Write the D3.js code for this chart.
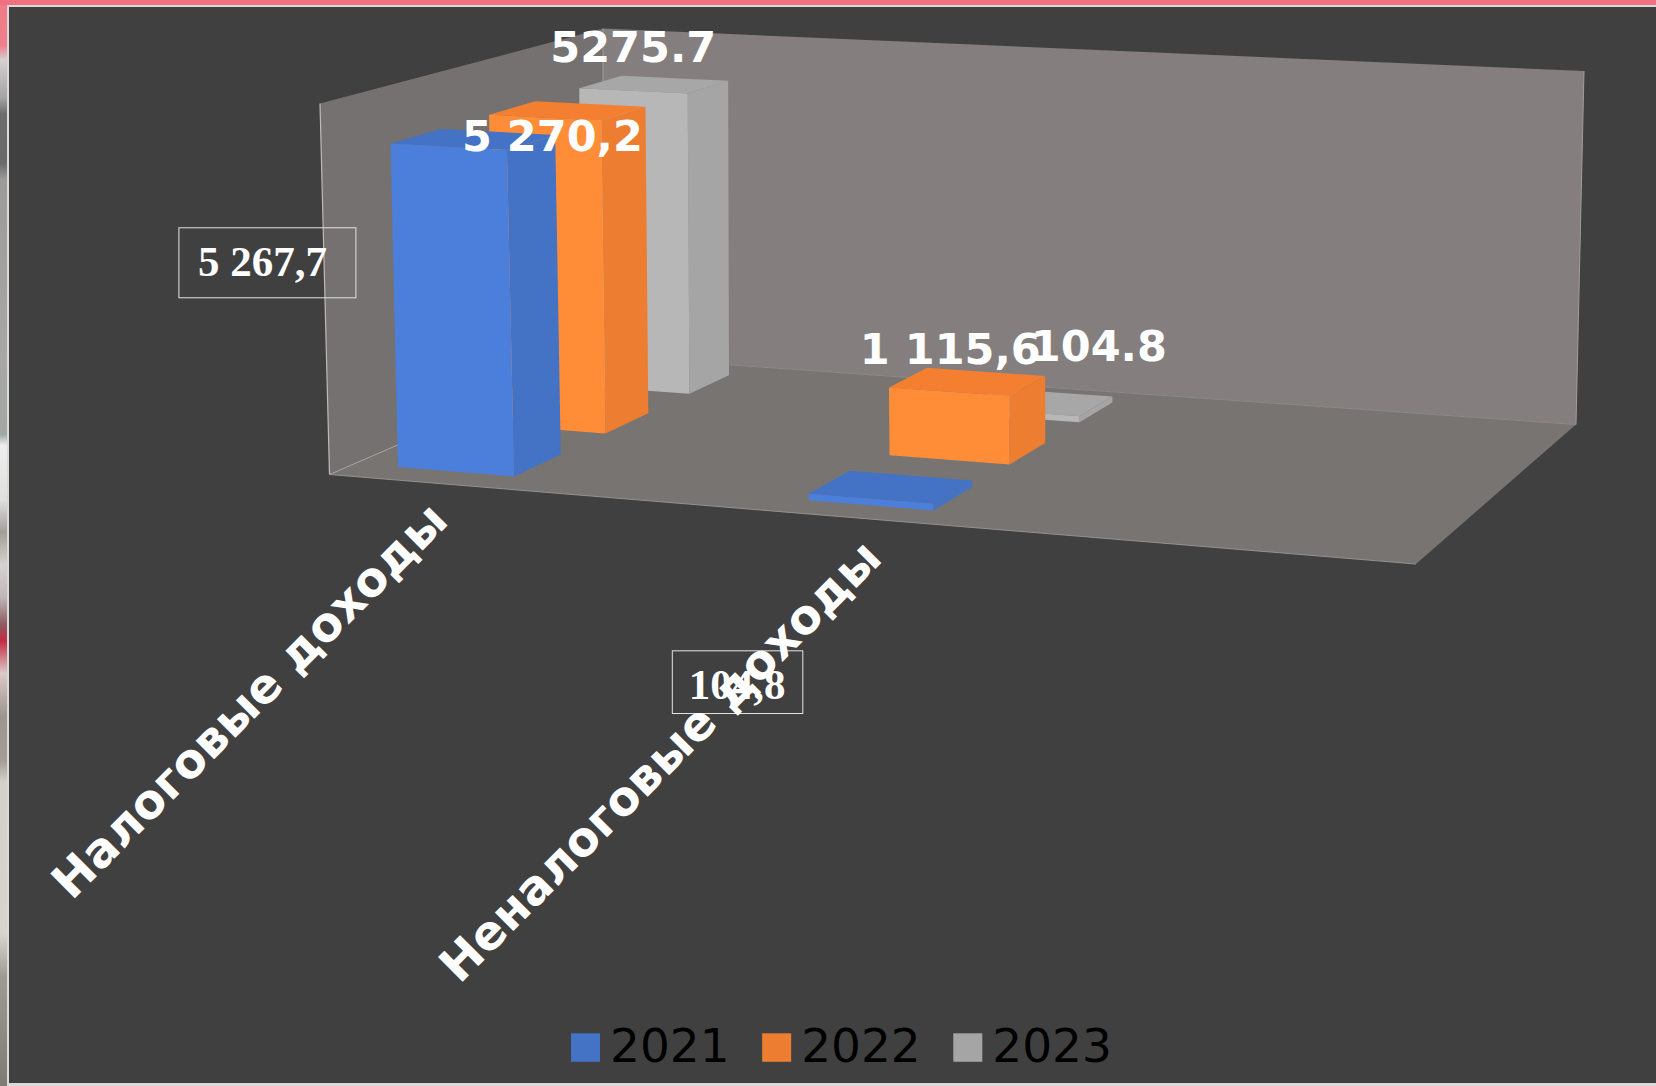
<!DOCTYPE html>
<html><head><meta charset="utf-8">
<style>html,body{margin:0;padding:0;background:#404040}svg{display:block}</style>
<script src="https://cdn.jsdelivr.net/npm/d3@7/dist/d3.min.js"></script>
</head><body><svg id="c" width="1656" height="1086"></svg>
<script>
// ---- data ----
const categories = ["Налоговые доходы", "", "Неналоговые доходы", "", ""];
const seriesNames = ["2021", "2022", "2023"];
const values2021 = [5267.7, null, 104.8, null, null];
const values2022 = [5270.2, null, 1115.6, null, null];
const values2023 = [5275.7, null, 104.8, null, null];
const labels2021 = ["5 267,7", "", "104,8", "", ""];
const labels2022 = ["5 270,2", "", "1 115,6", "", ""];
const labels2023 = ["5275.7", "", "104.8", "", ""];
const yTicksMax = 6000;

// ---- styling / layout ----
const W = 1656, H = 1086;
const faceColors = {
  "2021": {front:"#4C7FDB", side:"#4472C4", top:"#4472C4"},
  "2022": {front:"#FF8D38", side:"#ED7D31", top:"#F47F30"},
  "2023": {front:"#B7B7B7", side:"#A5A5A5", top:"#A7A7A7"}
};
const scene = {
  floor:[[329.5,474.5],[1416,564],[1576,424.5],[603,356]],
  ceil:[[320,103.5],[1422.6,161],[1584,71],[603,28.5]]
};
// unit square -> quad
function homography(q){
  const [[x0,y0],[x1,y1],[x2,y2],[x3,y3]] = q;
  const dx1=x1-x2, dx2=x3-x2, sx=x0-x1+x2-x3, dy1=y1-y2, dy2=y3-y2, sy=y0-y1+y2-y3;
  const den=dx1*dy2-dx2*dy1;
  const g=(sx*dy2-dx2*sy)/den, h=(dx1*sy-sx*dy1)/den;
  const a=x1-x0+g*x1, b=x3-x0+h*x3, d=y1-y0+g*y1, e=y3-y0+h*y3;
  return (u,v)=>{const w=g*u+h*v+1;return [(a*u+b*v+x0)/w,(d*u+e*v+y0)/w];};
}
const hFloor=homography(scene.floor), hCeil=homography(scene.ceil);
function project(u,t,v){
  const p=hFloor(u,v), q=hCeil(u,v);
  return [p[0]+(q[0]-p[0])*t, p[1]+(q[1]-p[1])*t];
}
// scales
const xBand=d3.scaleBand().domain(d3.range(categories.length)).range([0.0015,1.0015]).paddingInner(0.42).paddingOuter(0.21);
const zBand=d3.scaleBand().domain(seriesNames).range([0,1]).paddingInner(0.5).paddingOuter(0.25);
const yScale=d3.scaleLinear().domain([0,yTicksMax]).range([0,1]);
const legendX=d3.scalePoint().domain(seriesNames).range([571,953.3]);
const line=d3.line().curve(d3.curveLinearClosed);

const svg=d3.select("#c");
// outside the slide panel
const defs=svg.append("defs");
const grad=defs.append("linearGradient").attr("id","strip").attr("x1",0).attr("x2",0).attr("y1",0).attr("y2",1);
[[0,"#F07A88"],[0.042,"#EE7F8C"],[0.055,"#D5D0D2"],[0.09,"#A5A4A4"],[0.105,"#6C6C6C"],[0.15,"#6A6A6A"],[0.165,"#9C9B98"],[0.33,"#A9A7A2"],[0.4,"#A0A8A2"],[0.41,"#EDEDED"],[0.46,"#E0E0DE"],[0.49,"#A29F98"],[0.52,"#D5D2CE"],[0.55,"#C0B8B8"],[0.575,"#8E5A62"],[0.59,"#C42C42"],[0.62,"#DCC8C8"],[0.66,"#9B968E"],[0.7,"#A29E96"],[0.72,"#D3CFC9"],[0.86,"#D8D4CF"],[0.9,"#9E9A93"],[1,"#7E7B76"]]
 .forEach(s=>grad.append("stop").attr("offset",s[0]).attr("stop-color",s[1]));
svg.append("rect").attr("width",W).attr("height",H).attr("fill","#404040");
svg.append("rect").attr("width",7).attr("height",H).attr("fill","url(#strip)");
svg.append("rect").attr("width",W).attr("height",5).attr("fill","#F0707F");
svg.append("rect").attr("x",7).attr("y",5).attr("width",W-7).attr("height",2).attr("fill","#D9D9D9");
svg.append("rect").attr("x",7).attr("y",5).attr("width",2).attr("height",H-5).attr("fill","#D9D9D9");
svg.append("rect").attr("x",7).attr("y",1083).attr("width",W-7).attr("height",3).attr("fill","#D9D9D9");

// room
const room=svg.append("g");
const poly=(g,pts,fill)=>g.append("path").attr("d",line(pts)).attr("fill",fill);
poly(room,[project(0,0,1),project(1,0,1),project(1,1,1),project(0,1,1)],"#847E7E");
poly(room,[project(0,0,0),project(0,0,1),project(0,1,1),project(0,1,0)],"#747170");
poly(room,[project(0,0,0),project(1,0,0),project(1,0,1),project(0,0,1)],"#787472");
const edges=[[[0,0,0],[0,1,0],"#BDBBBA",1.2],[[0,0,0],[0,0,1],"#A9A6A5",1],[[0,0,1],[0,1,1],"#A09C9B",1],
  [[0,0,0],[1,0,0],"#949190",1],[[1,0,1],[1,1,1],"#A09D9C",1],[[0,0,1],[1,0,1],"#8E8A89",1]];
edges.forEach(e=>{const a=project(...e[0]),b=project(...e[1]);
  room.append("line").attr("x1",a[0]).attr("y1",a[1]).attr("x2",b[0]).attr("y2",b[1]).attr("stroke",e[2]).attr("stroke-width",e[3]);});

// bars: painter's order back to front
const seriesValues={"2021":values2021,"2022":values2022,"2023":values2023};
const bars=svg.append("g");
seriesNames.slice().reverse().forEach(s=>{
  const col=faceColors[s];
  seriesValues[s].forEach((val,i)=>{
    if(val==null) return;
    const u0=xBand(i),u1=u0+xBand.bandwidth(),v0=zBand(s),v1=v0+zBand.bandwidth(),t=yScale(val);
    const g=bars.append("g");
    poly(g,[project(u0,t,v0),project(u1,t,v0),project(u1,t,v1),project(u0,t,v1)],col.top);
    poly(g,[project(u1,0,v0),project(u1,0,v1),project(u1,t,v1),project(u1,t,v0)],col.side);
    poly(g,[project(u0,0,v0),project(u1,0,v0),project(u1,t,v0),project(u0,t,v0)],col.front);
  });
});

// data labels: anchored at the bar's top-front centre
function topCentre(s,i){const v=seriesValues[s][i];return project(xBand(i)+xBand.bandwidth()/2,yScale(v),zBand(s));}
const labelLayer=svg.append("g");
const boldOffsets={"2022":{0:[7.5,33],2:[1.5,-27.5]},"2023":{0:[0,-28.5],2:[77.5,-50.5]}};
const boldLabels={"2022":labels2022,"2023":labels2023};
const serifOffsets={0:{cx:-181,cy:116,w:177,h:70,tx:-5,ty:13},2:{cx:-133,cy:183.5,w:130.5,h:62.7,tx:-0.5,ty:17}};
// 2021 boxed serif
Object.keys(serifOffsets).forEach(k=>{
  const o=serifOffsets[k],p=topCentre("2021",+k),cx=p[0]+o.cx,cy=p[1]+o.cy;
  labelLayer.append("rect").attr("x",cx-o.w/2).attr("y",cy-o.h/2).attr("width",o.w).attr("height",o.h)
    .attr("fill","none").attr("stroke","#E4E4E4").attr("stroke-width",1);
  labelLayer.append("text").attr("x",cx+o.tx).attr("y",cy+o.ty).attr("text-anchor","middle")
    .attr("font-family","'Liberation Serif'").attr("font-weight",700).attr("font-size",43).attr("fill","#fff")
    .text(labels2021[+k]);
});
// axis labels
const axisOffsets={0:[19,40],2:[34,43]};
categories.forEach((c,i)=>{
  if(!c) return;
  const p=project(xBand(i)+xBand.bandwidth()/2,0,0);
  const x=p[0]+axisOffsets[i][0],y=p[1]+axisOffsets[i][1];
  svg.append("text").attr("transform",`translate(${x},${y}) rotate(-45)`).attr("text-anchor","end")
    .attr("font-family","'DejaVu Sans'").attr("font-weight",700).attr("font-size",47.6).attr("fill","#fff").text(c);
});
// bold labels
["2023","2022"].forEach(s=>{
  Object.keys(boldOffsets[s]).forEach(k=>{
    const o=boldOffsets[s][k],p=topCentre(s,+k);
    svg.append("text").attr("x",p[0]+o[0]).attr("y",p[1]+o[1]).attr("text-anchor","middle")
      .attr("font-family","'DejaVu Sans'").attr("font-weight",700).attr("font-size",43).attr("fill","#fff")
      .text(boldLabels[s][+k]);
  });
});
// legend
seriesNames.forEach(s=>{
  const x=legendX(s);
  svg.append("rect").attr("x",x).attr("y",1033.3).attr("width",29).attr("height",28.5).attr("fill",faceColors[s].side);
  svg.append("text").attr("x",x+39).attr("y",1062).attr("font-family","'DejaVu Sans'").attr("font-size",47).attr("fill","#000").text(s);
});
</script></body></html>
